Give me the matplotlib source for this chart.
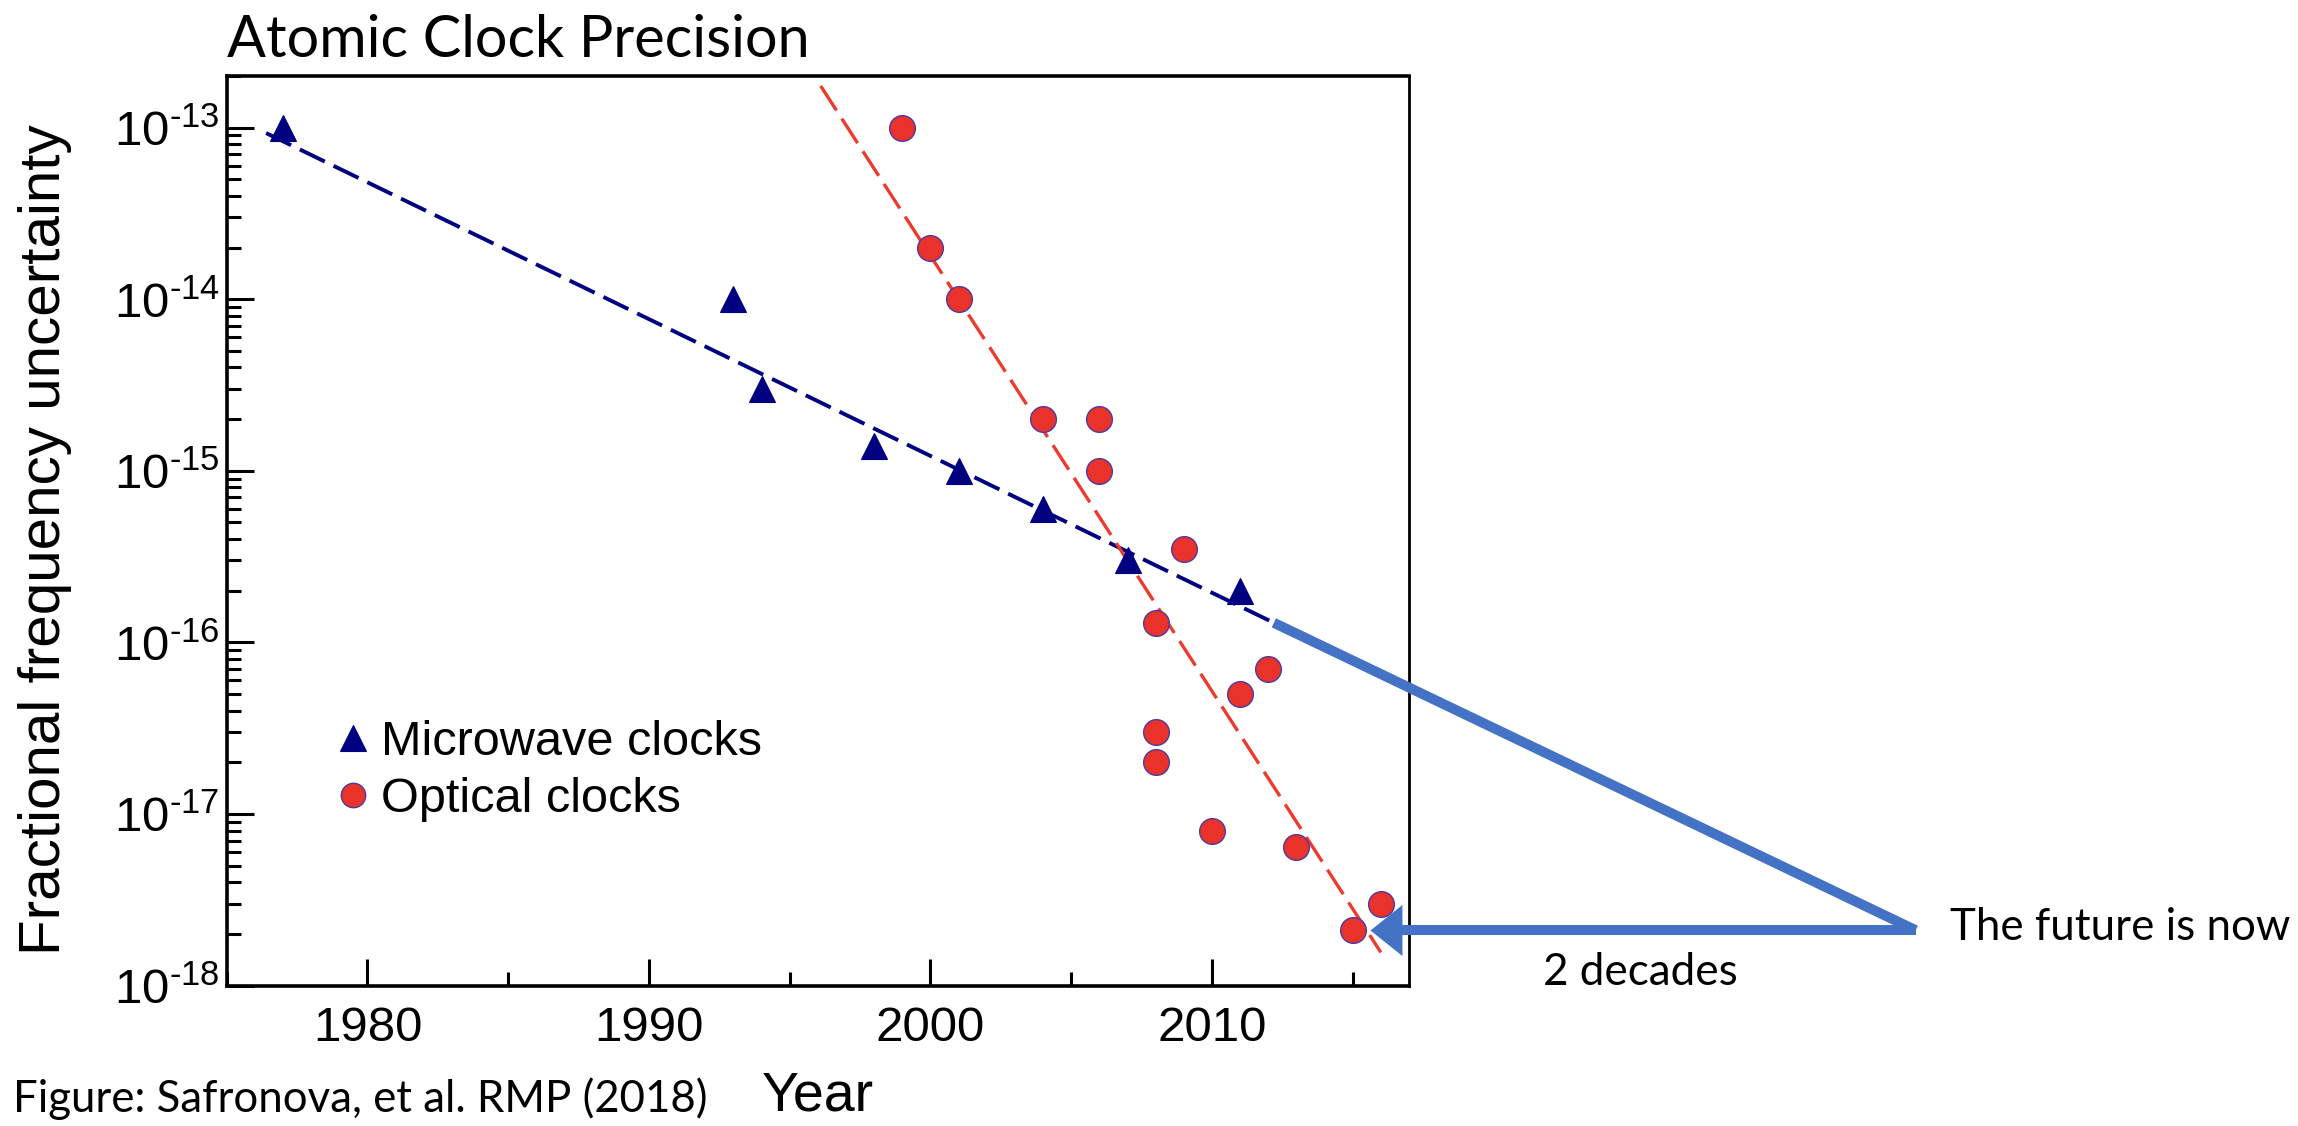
import numpy as np
import matplotlib
matplotlib.use("Agg")
import matplotlib.pyplot as plt
from matplotlib.ticker import MultipleLocator, LogLocator, FixedLocator, NullFormatter, FuncFormatter

plt.rcParams['font.family'] = 'Liberation Sans'
plt.rcParams['mathtext.fontset'] = 'custom'
plt.rcParams['mathtext.rm'] = 'Liberation Sans'
plt.rcParams['mathtext.it'] = 'Liberation Sans:italic'
plt.rcParams['mathtext.bf'] = 'Liberation Sans:bold'
plt.rcParams['lines.scale_dashes'] = False

# valores
mw_years = [1977, 1993, 1994, 1998, 2001, 2004, 2007, 2011]
mw_unc = [1e-13, 1e-14, 3e-15, 1.4e-15, 1e-15, 6e-16, 3e-16, 2e-16]

opt_years = [1999, 2000, 2001, 2004, 2006, 2006, 2008, 2009,
             2008, 2008, 2010, 2011, 2012, 2013, 2015, 2016]
opt_unc = [1e-13, 2e-14, 1e-14, 2e-15, 2e-15, 1e-15, 1.3e-16, 3.5e-16,
           3e-17, 2e-17, 8e-18, 5e-17, 7e-17, 6.4e-18, 2.1e-18, 3e-18]

# retas tracejadas (pontos extremos)
mw_fit_years = [1976.4, 2012.2]
mw_fit_unc = [9.3e-14, 1.3e-16]
opt_fit_years = [1996.1, 2016.0]
opt_fit_unc = [1.75e-13, 1.56e-18]

# seta "the future is now": tendencia microondas ate 2035, volta ate 2015
arrow_years = [2012.2, 2035.0, 2016.3]
arrow_unc = [1.3e-16, 2.1e-18, 2.1e-18]
arrow_tip = (2015.6, 2.1e-18)

# decadas do eixo y
y_decades = [-18, -17, -16, -15, -14, -13]

NAVY = '#000080'
RED = '#e8322a'
ARROW = '#4472c4'

W, H = 2298, 1126
fig = plt.figure(figsize=(W / 100, H / 100), dpi=100)
ax = fig.add_axes([226.7 / W, 1 - 985.5 / H, (1409 - 226.7) / W, (985.5 - 76) / H])
ax.set_yscale('log')
ax.set_xlim(1975, 2017)
ax.set_ylim(1e-18, 2e-13)

# retas de tendencia
ax.plot(mw_fit_years, mw_fit_unc, color=NAVY, lw=2.8, dashes=(20, 7), zorder=2)
ax.plot(opt_fit_years, opt_fit_unc, color='#ec3b2e', lw=2.4, dashes=(21, 7), zorder=2)

# pontos
ax.plot(mw_years, mw_unc, ls='none', marker='^', ms=19, color=NAVY,
        mec=NAVY, mew=0.8, label='Microwave clocks', zorder=3)
ax.plot(opt_years, opt_unc, ls='none', marker='o', ms=18.5, color=RED,
        mec='#4b3aa6', mew=1.0, label='Optical clocks', zorder=3)

# seta azul
ax.plot(arrow_years[:2], arrow_unc[:2], color=ARROW, lw=7.2,
        solid_capstyle='butt', clip_on=False, zorder=4)
ax.plot(arrow_years[1:], arrow_unc[1:], color=ARROW, lw=7.2,
        solid_capstyle='butt', clip_on=False, zorder=4)
ax.plot([arrow_tip[0]], [arrow_tip[1]], ls='none', color=ARROW,
        marker=[(0, 0), (1, 0.8), (1, -0.8)], ms=46, mew=0,
        clip_on=False, zorder=4)

# eixos
for side in ['left', 'bottom', 'top']:
    ax.spines[side].set_linewidth(2.6)
ax.spines['right'].set_linewidth(2.0)

ax.xaxis.set_major_locator(MultipleLocator(10))
ax.xaxis.set_minor_locator(MultipleLocator(5))
ax.yaxis.set_major_locator(FixedLocator([10.0 ** d for d in y_decades]))
ax.yaxis.set_minor_locator(LogLocator(base=10, subs=np.arange(2, 10), numticks=20))
ax.yaxis.set_minor_formatter(NullFormatter())
ax.yaxis.set_major_formatter(FuncFormatter(
    lambda v, p: r'$10^{\text{-}%d}$' % int(round(-np.log10(v)))))

ax.tick_params(which='both', direction='in', top=False, right=False,
               width=2.2, labelsize=35.5)
ax.tick_params(which='major', length=19.5)
ax.tick_params(which='minor', length=10)
ax.tick_params(axis='x', pad=15)
ax.tick_params(axis='y', pad=5)

ax.set_ylabel('Fractional frequency uncertainty', fontsize=42)
ax.yaxis.set_label_coords((72 - 226.7) / (1409 - 226.7), 0.49)
ax.set_xlabel('Year', fontsize=40)
ax.xaxis.set_label_coords(0.5, -0.093)

ax.legend(loc='center left', bbox_to_anchor=(338 / W, 1 - 771 / H),
          bbox_transform=fig.transFigure, frameon=False, fontsize=35,
          handlelength=0.6, handletextpad=0.28, labelspacing=0.25,
          borderpad=0, borderaxespad=0, numpoints=1, markerscale=0.95)

# textos
fig.text(227 / W, 1 - 57 / H, 'Atomic Clock Precision', family='Lato',
         fontsize=41.5, va='baseline')
fig.text(13 / W, 1 - 1112 / H, 'Figure: Safronova, et al. RMP (2018)',
         family='Lato', fontsize=31.5, va='baseline')
fig.text(1950 / W, 1 - 940 / H, 'The future is now', family='Lato',
         fontsize=31.6, va='baseline')
fig.text(1543 / W, 1 - 985 / H, '2 decades', family='Lato',
         fontsize=31.7, va='baseline')

fig.savefig('out.png', dpi=100)
